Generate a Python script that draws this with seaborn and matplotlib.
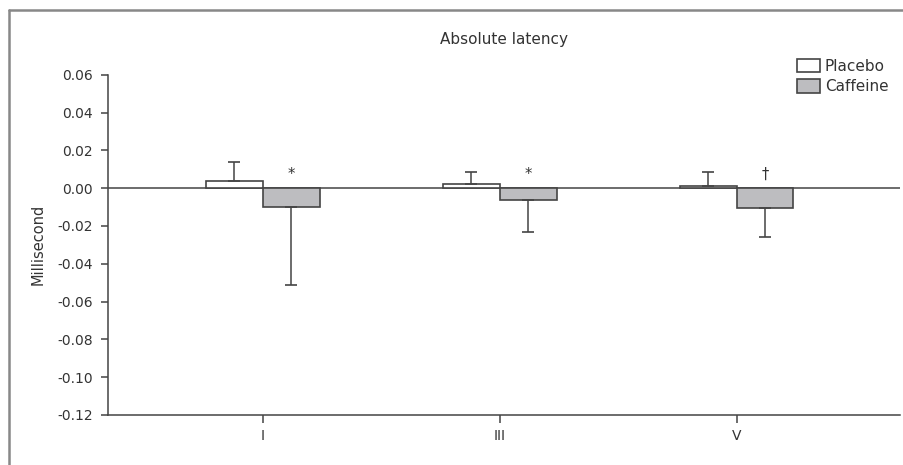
import pandas as pd
import matplotlib.pyplot as plt
import seaborn as sns
from matplotlib.lines import Line2D

# Values
waves = ["I", "III", "V"]
placebo_mean = [0.004, 0.002, 0.001]
placebo_err = [0.0098, 0.0065, 0.0075]
caffeine_mean = [-0.010, -0.0065, -0.0105]
caffeine_err = [0.041, 0.0165, 0.0155]
marks = ["*", "*", "\u2020"]
yticks = [0.06, 0.04, 0.02, 0.00, -0.02, -0.04, -0.06, -0.08, -0.10, -0.12]

df = pd.DataFrame({
    "wave": waves * 2,
    "group": ["Placebo"] * 3 + ["Caffeine"] * 3,
    "value": placebo_mean + caffeine_mean,
})

sns.set_style("white")
plt.rcParams["font.family"] = ["DejaVu Sans"]
txt = "#333333"
edge = "#444444"

fig = plt.figure(figsize=(9.04, 4.65), dpi=100)
ax = fig.add_axes([108 / 904, 1 - 415 / 465, 792 / 904, (415 - 74.7) / 465])

sns.barplot(data=df, x="wave", y="value", hue="group", order=waves,
            hue_order=["Placebo", "Caffeine"],
            palette={"Placebo": "white", "Caffeine": "#bcbdc0"},
            errorbar=None, width=0.48, edgecolor=edge, linewidth=1.2, ax=ax)

# one-sided error bars, on top of the bars the library drew
bars = ax.patches[:6]
for i, p in enumerate(bars[:3]):
    xc = p.get_x() + p.get_width() / 2
    ax.errorbar(xc, placebo_mean[i], yerr=[[0], [placebo_err[i]]], fmt="none",
                ecolor=edge, elinewidth=1.1, capsize=4, capthick=1.2)
for i, p in enumerate(bars[3:6]):
    xc = p.get_x() + p.get_width() / 2
    ax.errorbar(xc, caffeine_mean[i], yerr=[[caffeine_err[i]], [0]], fmt="none",
                ecolor=edge, elinewidth=1.1, capsize=4, capthick=1.2)
    ax.text(xc, 0.0072, marks[i], ha="center", va="center", fontsize=10.5, color=txt)

ax.axhline(0, color=edge, lw=1.1, zorder=0.5)

ax.set_xlim(-0.654, 2.69)
ax.set_ylim(-0.12, 0.06)
ax.set_yticks(yticks)
ax.set_yticklabels([f"{v:.2f}" for v in yticks])
ax.set_xlabel("")
ax.set_ylabel("Millisecond", fontsize=10.5, color=txt, labelpad=8)
ax.set_title("Absolute latency", fontsize=11, color=txt, pad=22)

for s in ["top", "right"]:
    ax.spines[s].set_visible(False)
for s in ["left", "bottom"]:
    ax.spines[s].set_color(edge)
    ax.spines[s].set_linewidth(1.1)
ax.tick_params(axis="both", direction="out", length=5, width=1.1, color=edge,
               labelcolor=txt, labelsize=10)
ax.tick_params(axis="x", length=6, pad=4)
ax.tick_params(axis="y", left=True, pad=6)
ax.tick_params(axis="x", bottom=True)

ax.legend(loc="upper right", bbox_to_anchor=(896 / 904, 1 - 51 / 465),
          bbox_transform=fig.transFigure, frameon=False, fontsize=11,
          handlelength=1.5, handleheight=1.0, handletextpad=0.3,
          labelspacing=0.35, borderpad=0, labelcolor=txt)

# frame fragment around the figure
fig.add_artist(Line2D([9 / 904, 9 / 904], [0, 1 - 10 / 465], color="#888888", lw=1.8))
fig.add_artist(Line2D([9 / 904, 1], [1 - 10 / 465, 1 - 10 / 465], color="#888888", lw=1.8))

fig.savefig("out.png", dpi=100)
